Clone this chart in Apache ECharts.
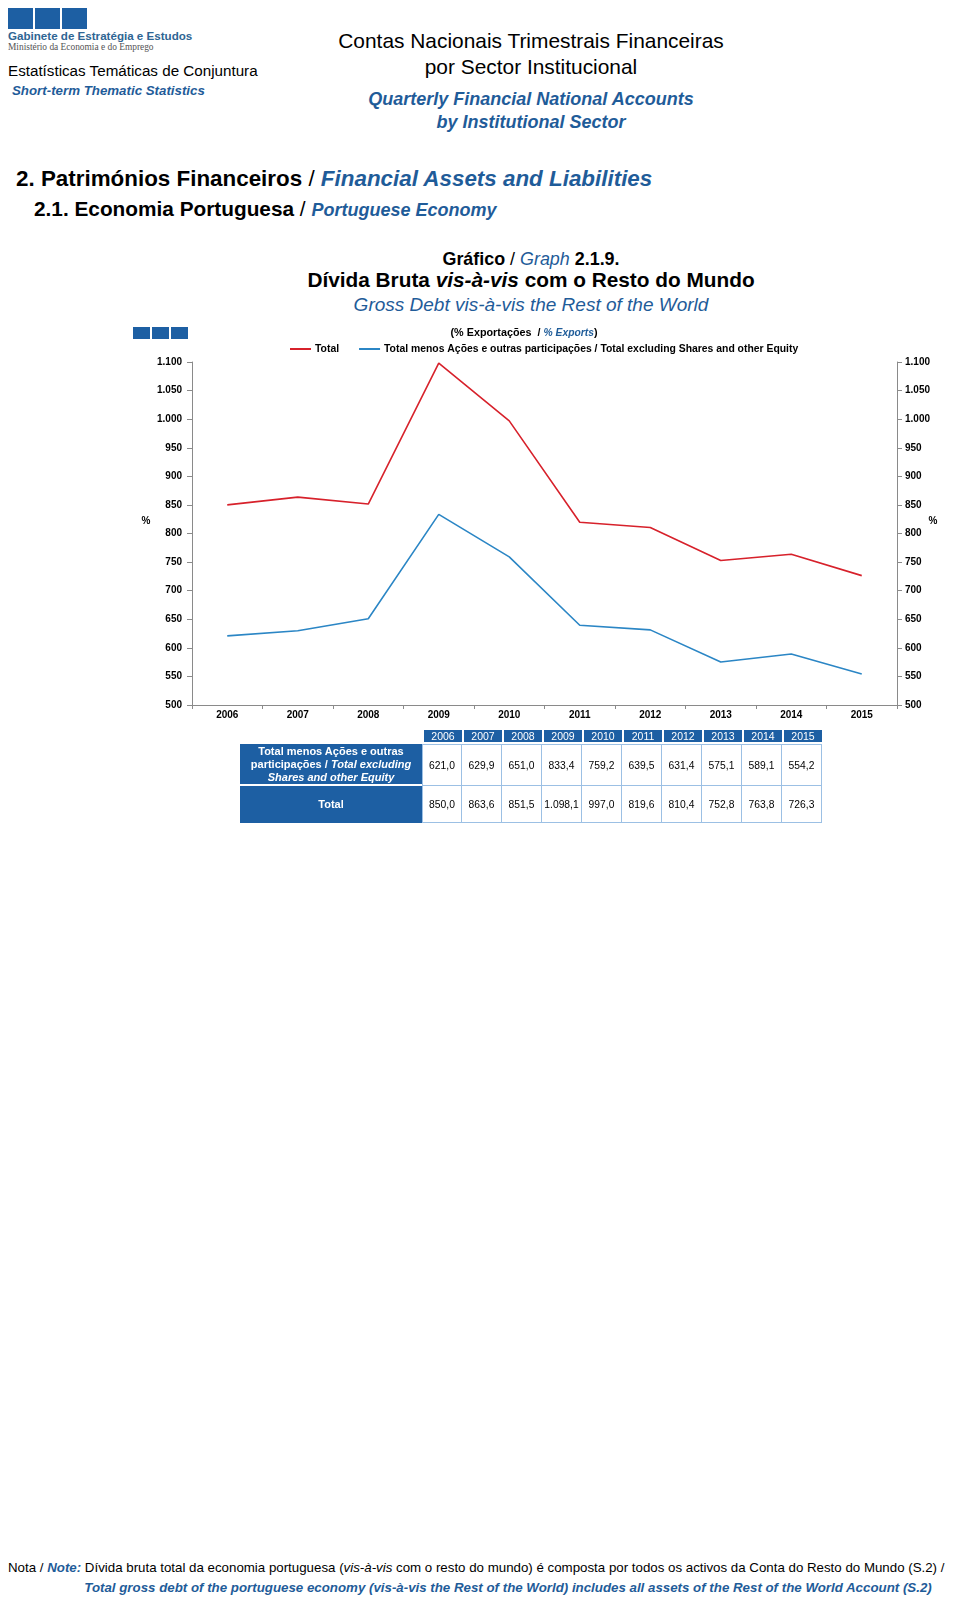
<!DOCTYPE html>
<html><head><meta charset="utf-8">
<script src="https://cdn.jsdelivr.net/npm/echarts@6/dist/echarts.min.js"></script>
<style>
body{margin:0;width:960px;height:1600px;position:relative;background:#fff;font-family:Arial,'Liberation Sans',sans-serif;overflow:hidden;}
.a{position:absolute;white-space:nowrap;line-height:1;}
.c{transform:translate(-50%,-50%);}
.m{transform:translateY(-50%);}
.b{color:#1f5c99;}
.sq{position:absolute;background:#1d5fa3;}
#chart{position:absolute;left:0;top:0;width:960px;height:740px;}
table{position:absolute;border-collapse:separate;border-spacing:0;font-family:Arial,'Liberation Sans',sans-serif;}
</style></head>
<body>
<div class="sq" style="left:8px;top:8px;width:25px;height:21px"></div>
<div class="sq" style="left:35px;top:8px;width:25px;height:21px"></div>
<div class="sq" style="left:62px;top:8px;width:25px;height:21px"></div>
<div class="a m" style="left:8px;top:36px;font-size:11.6px;font-weight:bold;color:#2e6593">Gabinete de Estratégia e Estudos</div>
<div class="a m" style="left:8px;top:48px;font-size:9.4px;font-family:'Liberation Serif',serif;color:#555">Ministério da Economia e do Emprego</div>
<div class="a m" style="left:8px;top:71px;font-size:15.2px;color:#000">Estatísticas Temáticas de Conjuntura</div>
<div class="a m b" style="left:12px;top:91px;font-size:13.3px;font-weight:bold;font-style:italic">Short-term Thematic Statistics</div>

<div class="a c" style="left:531px;top:41px;font-size:20.9px;color:#000">Contas Nacionais Trimestrais Financeiras</div>
<div class="a c" style="left:531px;top:67px;font-size:20.9px;color:#000">por Sector Institucional</div>
<div class="a c b" style="left:531px;top:99px;font-size:18px;font-weight:bold;font-style:italic">Quarterly Financial National Accounts</div>
<div class="a c b" style="left:531px;top:122px;font-size:18px;font-weight:bold;font-style:italic">by Institutional Sector</div>

<div class="a m" style="left:16px;top:179px;font-size:22.4px;color:#000"><span style="font-weight:bold">2. Patrimónios Financeiros</span> / <span class="b" style="font-weight:bold;font-style:italic">Financial Assets and Liabilities</span></div>
<div class="a m" style="left:34px;top:209px;font-size:20.8px;color:#000"><span style="font-weight:bold">2.1. Economia Portuguesa</span> / <span class="b" style="font-style:italic;font-weight:bold;font-size:18px">Portuguese Economy</span></div>

<div class="a c" style="left:531px;top:260px;font-size:17.9px;color:#000"><span style="font-weight:bold">Gráfico</span> / <span class="b" style="font-style:italic">Graph</span> <span style="font-weight:bold">2.1.9.</span></div>
<div class="a c" style="left:531px;top:280px;font-size:20.8px;color:#000;font-weight:bold">Dívida Bruta <i>vis-à-vis</i> com o Resto do Mundo</div>
<div class="a c b" style="left:531px;top:304px;font-size:19px;font-style:italic">Gross Debt vis-à-vis the Rest of the World</div>

<div class="sq" style="left:133px;top:327px;width:17px;height:12px"></div>
<div class="sq" style="left:152px;top:327px;width:17px;height:12px"></div>
<div class="sq" style="left:171px;top:327px;width:17px;height:12px"></div>

<div id="chart"></div>
<div id="tbl"></div>

<div class="a" style="left:8px;top:1561px;font-size:13.3px;font-family:'Liberation Sans Narrow',Arial,sans-serif;color:#000">Nota / <b class="b"><i>Note:</i></b> Dívida bruta total da economia portuguesa (<i>vis-à-vis</i> com o resto do mundo) é composta por todos os activos da Conta do Resto do Mundo (S.2) /</div>
<div class="a c b" style="left:508px;top:1588px;font-size:13.3px;font-family:'Liberation Sans Narrow',Arial,sans-serif;font-weight:bold;font-style:italic">Total gross debt of the portuguese economy (vis-à-vis the Rest of the World) includes all assets of the Rest of the World Account (S.2)</div>

<script>
// ---- data ----
const years = ['2006','2007','2008','2009','2010','2011','2012','2013','2014','2015'];
const totalExcl = [621.0, 629.9, 651.0, 833.4, 759.2, 639.5, 631.4, 575.1, 589.1, 554.2];
const total = [850.0, 863.6, 851.5, 1098.1, 997.0, 819.6, 810.4, 752.8, 763.8, 726.3];
const yMin = 500, yMax = 1100, yStep = 50;
const unitLabelValue = 821;
const nameTotal = 'Total';
const nameExcl = 'Total menos Ações e outras participações / Total excluding Shares and other Equity';

function fmtInt(v){ return String(Math.round(v)).replace(/\B(?=(\d{3})+(?!\d))/g, '.'); }
function fmtDec(v){
  const s = v.toFixed(1).split('.');
  return s[0].replace(/\B(?=(\d{3})+(?!\d))/g, '.') + ',' + s[1];
}

const narrow = "'Liberation Sans Narrow', Arial, sans-serif";
const axisLabel = {color:'#000', fontSize:10, fontWeight:'bold', fontFamily:'Arial, sans-serif', formatter: fmtInt};
const axisLine = {show:true, lineStyle:{color:'#8a8a8a', width:1}};

const chart = echarts.init(document.getElementById('chart'), null, {renderer:'canvas'});
chart.setOption({
  animation:false,
  title:{
    text:'{a|(% Exportações  / }{b|% Exports}{a|)}',
    left:519, top:323, textAlign:'center',
    textStyle:{rich:{
      a:{fontSize:10.8, fontWeight:'bold', color:'#000', fontFamily:narrow},
      b:{fontSize:10.3, fontWeight:'bold', fontStyle:'italic', color:'#1f5c99', fontFamily:narrow}
    }}
  },
  legend:{
    left:285, top:339, itemWidth:21, itemHeight:2, itemGap:20, icon:'rect',
    textStyle:{fontSize:10.4, fontWeight:'bold', color:'#000', fontFamily:narrow, padding:[0,0,0,-1]},
    data:[nameTotal, nameExcl]
  },
  grid:{left:192, right:63, top:362, height:343, containLabel:false},
  xAxis:{
    type:'category', data:years, boundaryGap:true,
    axisLine:axisLine,
    axisTick:{show:true, interval:0, length:4, lineStyle:{color:'#8a8a8a'}},
    axisLabel:{color:'#000', fontSize:10, fontWeight:'bold', fontFamily:'Arial, sans-serif', margin:5, interval:0},
    splitLine:{show:false}
  },
  yAxis:[
    {type:'value', min:yMin, max:yMax, interval:yStep, position:'left',
     axisLine:axisLine, axisTick:{show:true, length:5, lineStyle:{color:'#8a8a8a'}},
     axisLabel:Object.assign({margin:10}, axisLabel), splitLine:{show:false}},
    {type:'value', min:yMin, max:yMax, interval:yStep, position:'right',
     axisLine:axisLine, axisTick:{show:true, length:5, lineStyle:{color:'#8a8a8a'}},
     axisLabel:Object.assign({margin:8}, axisLabel), splitLine:{show:false}}
  ],
  series:[
    {name:nameTotal, type:'line', data:total, yAxisIndex:0, showSymbol:false, symbol:'none',
     lineStyle:{color:'#d7212b', width:1.6}, itemStyle:{color:'#d7212b'}},
    {name:nameExcl, type:'line', data:totalExcl, yAxisIndex:0, showSymbol:false, symbol:'none',
     lineStyle:{color:'#2b86c5', width:1.6}, itemStyle:{color:'#2b86c5'}}
  ]
});

// "%" unit labels placed through the y scale
const yUnit = chart.convertToPixel({yAxisIndex:0}, unitLabelValue);
const unitStyle = {text:'%', fontSize:10, fontWeight:'bold', fill:'#000', align:'center', verticalAlign:'middle', fontFamily:'Arial, sans-serif'};
chart.setOption({graphic:[
  {type:'text', x:146, y:yUnit, style:unitStyle},
  {type:'text', x:933, y:yUnit, style:unitStyle}
]});

// ---- data table ----
const hdrBlue = '#1d5fa3';
const cellBorder = '#9cc0e4';
let h = '<table style="left:240px;top:730px;">';
h += '<tr><td style="width:182px;height:12px;padding:0"></td>';
years.forEach(y => {
  h += '<td style="width:38px;height:12px;padding:0;background:'+hdrBlue+';color:#fff;font-size:10.5px;text-align:center;border-left:2px solid #fff;line-height:12px">'+y+'</td>';
});
h += '</tr><tr><td style="height:2px;padding:0" colspan="11"></td></tr>';
const rows = [
  {label:'<b>Total menos Ações e outras<br>participações / <i>Total excluding</i><br><i>Shares and other Equity</i></b>', vals: totalExcl, hgt:40},
  {label:'<b>Total</b>', vals: total, hgt:37}
];
rows.forEach((r, ri) => {
  h += '<tr>';
  h += '<td style="height:'+r.hgt+'px;padding:0;background:'+hdrBlue+';color:#fff;font-size:11px;text-align:center;line-height:13px;border-bottom:'+(ri===0?'2px solid #fff':'0')+'">'+r.label+'</td>';
  r.vals.forEach((v, i) => {
    h += '<td style="padding:0;background:#fff;color:#000;font-size:10.3px;text-align:center;border:1px solid '+cellBorder+';'+(i>0?'border-left:0;':'')+(ri===0?'':'border-top:0;')+'">'+fmtDec(v)+'</td>';
  });
  h += '</tr>';
});
h += '</table>';
document.getElementById('tbl').innerHTML = h;
</script>
</body></html>
